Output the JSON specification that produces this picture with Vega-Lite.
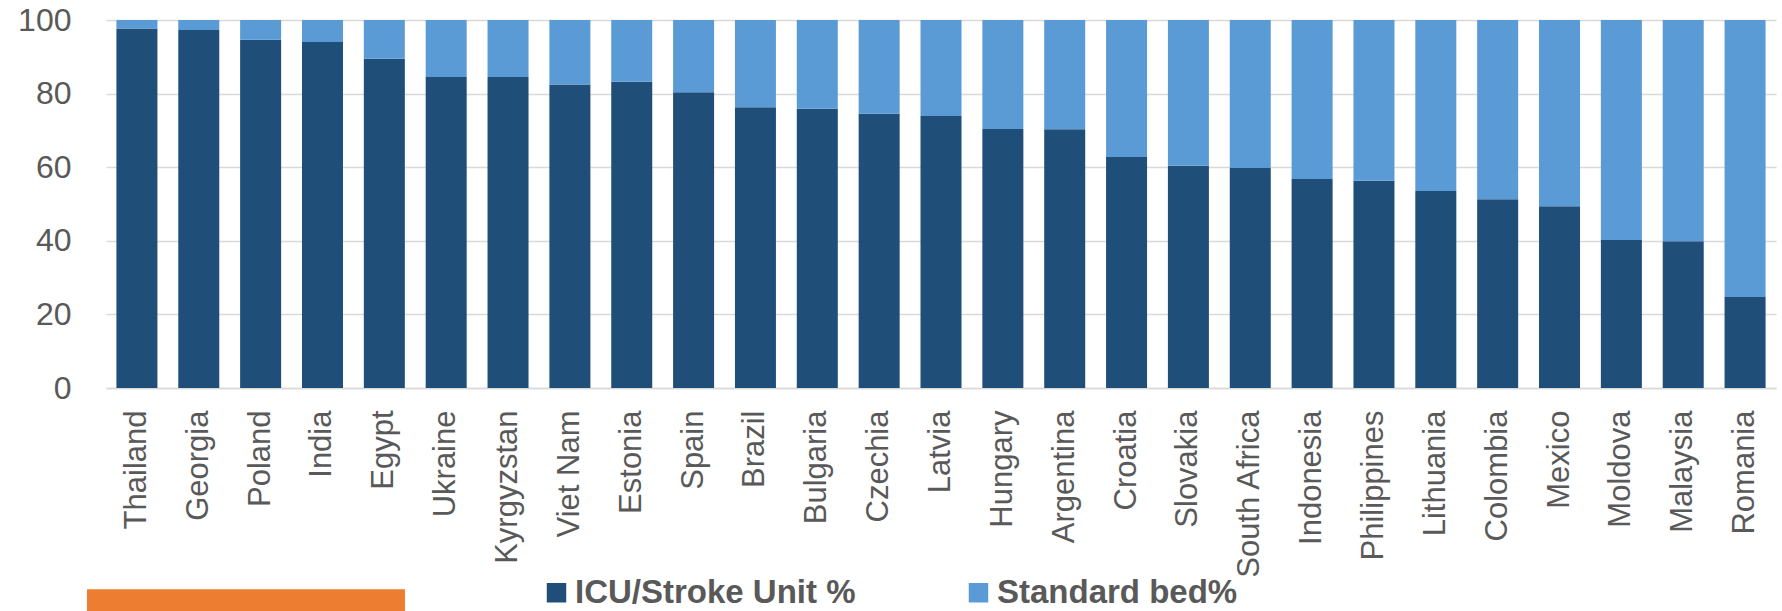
{
  "$schema": "https://vega.github.io/schema/vega-lite/v6.json",
  "width": 1670,
  "height": 368,
  "autosize": {"type": "none"},
  "padding": {"left": 106, "top": 20, "right": 6, "bottom": 223},
  "background": "white",
  "config": {"view": {"stroke": null}, "font": "Liberation Sans"},
  "data": {
    "values": [
      {"country": "Thailand", "type": "ICU/Stroke Unit %", "value": 97.7},
      {"country": "Thailand", "type": "Standard bed%", "value": 2.3},
      {"country": "Georgia", "type": "ICU/Stroke Unit %", "value": 97.3},
      {"country": "Georgia", "type": "Standard bed%", "value": 2.7},
      {"country": "Poland", "type": "ICU/Stroke Unit %", "value": 94.6},
      {"country": "Poland", "type": "Standard bed%", "value": 5.4},
      {"country": "India", "type": "ICU/Stroke Unit %", "value": 94.0},
      {"country": "India", "type": "Standard bed%", "value": 6.0},
      {"country": "Egypt", "type": "ICU/Stroke Unit %", "value": 89.5},
      {"country": "Egypt", "type": "Standard bed%", "value": 10.5},
      {"country": "Ukraine", "type": "ICU/Stroke Unit %", "value": 84.5},
      {"country": "Ukraine", "type": "Standard bed%", "value": 15.5},
      {"country": "Kyrgyzstan", "type": "ICU/Stroke Unit %", "value": 84.5},
      {"country": "Kyrgyzstan", "type": "Standard bed%", "value": 15.5},
      {"country": "Viet Nam", "type": "ICU/Stroke Unit %", "value": 82.5},
      {"country": "Viet Nam", "type": "Standard bed%", "value": 17.5},
      {"country": "Estonia", "type": "ICU/Stroke Unit %", "value": 83.2},
      {"country": "Estonia", "type": "Standard bed%", "value": 16.8},
      {"country": "Spain", "type": "ICU/Stroke Unit %", "value": 80.4},
      {"country": "Spain", "type": "Standard bed%", "value": 19.6},
      {"country": "Brazil", "type": "ICU/Stroke Unit %", "value": 76.3},
      {"country": "Brazil", "type": "Standard bed%", "value": 23.7},
      {"country": "Bulgaria", "type": "ICU/Stroke Unit %", "value": 75.9},
      {"country": "Bulgaria", "type": "Standard bed%", "value": 24.1},
      {"country": "Czechia", "type": "ICU/Stroke Unit %", "value": 74.5},
      {"country": "Czechia", "type": "Standard bed%", "value": 25.5},
      {"country": "Latvia", "type": "ICU/Stroke Unit %", "value": 73.9},
      {"country": "Latvia", "type": "Standard bed%", "value": 26.1},
      {"country": "Hungary", "type": "ICU/Stroke Unit %", "value": 70.4},
      {"country": "Hungary", "type": "Standard bed%", "value": 29.6},
      {"country": "Argentina", "type": "ICU/Stroke Unit %", "value": 70.3},
      {"country": "Argentina", "type": "Standard bed%", "value": 29.7},
      {"country": "Croatia", "type": "ICU/Stroke Unit %", "value": 62.8},
      {"country": "Croatia", "type": "Standard bed%", "value": 37.2},
      {"country": "Slovakia", "type": "ICU/Stroke Unit %", "value": 60.4},
      {"country": "Slovakia", "type": "Standard bed%", "value": 39.6},
      {"country": "South Africa", "type": "ICU/Stroke Unit %", "value": 59.8},
      {"country": "South Africa", "type": "Standard bed%", "value": 40.2},
      {"country": "Indonesia", "type": "ICU/Stroke Unit %", "value": 56.8},
      {"country": "Indonesia", "type": "Standard bed%", "value": 43.2},
      {"country": "Philippines", "type": "ICU/Stroke Unit %", "value": 56.3},
      {"country": "Philippines", "type": "Standard bed%", "value": 43.7},
      {"country": "Lithuania", "type": "ICU/Stroke Unit %", "value": 53.5},
      {"country": "Lithuania", "type": "Standard bed%", "value": 46.5},
      {"country": "Colombia", "type": "ICU/Stroke Unit %", "value": 51.3},
      {"country": "Colombia", "type": "Standard bed%", "value": 48.7},
      {"country": "Mexico", "type": "ICU/Stroke Unit %", "value": 49.4},
      {"country": "Mexico", "type": "Standard bed%", "value": 50.6},
      {"country": "Moldova", "type": "ICU/Stroke Unit %", "value": 40.2},
      {"country": "Moldova", "type": "Standard bed%", "value": 59.8},
      {"country": "Malaysia", "type": "ICU/Stroke Unit %", "value": 39.9},
      {"country": "Malaysia", "type": "Standard bed%", "value": 60.1},
      {"country": "Romania", "type": "ICU/Stroke Unit %", "value": 24.7},
      {"country": "Romania", "type": "Standard bed%", "value": 75.3}
    ]
  },
  "layer": [
    {
      "mark": {"type": "bar"},
      "encoding": {
        "x": {
          "field": "country",
          "type": "nominal",
          "sort": null,
          "scale": {"paddingInner": 0.337, "paddingOuter": 0.1685},
          "axis": {
            "title": null,
            "labelAngle": -90,
            "labelFontSize": 31,
            "labelFont": "Liberation Sans",
            "labelColor": "#595959",
            "labelPadding": 22,
            "ticks": false,
            "tickSize": 0,
            "domainColor": "#D9D9D9",
            "domainWidth": 1.3,
            "labelLimit": 0
          }
        },
        "y": {
          "field": "value",
          "type": "quantitative",
          "stack": "zero",
          "scale": {"domain": [0, 100], "nice": false},
          "axis": {
            "title": null,
            "values": [0, 20, 40, 60, 80, 100],
            "labelFontSize": 32,
            "labelFont": "Liberation Sans",
            "labelColor": "#595959",
            "labelPadding": 35,
            "ticks": false,
            "tickSize": 0,
            "domain": false,
            "gridColor": "#D9D9D9",
            "gridWidth": 1.3
          }
        },
        "order": {"field": "type", "sort": "ascending"},
        "color": {
          "field": "type",
          "type": "nominal",
          "scale": {
            "domain": ["ICU/Stroke Unit %", "Standard bed%"],
            "range": ["#1F4E79", "#5B9BD5"]
          },
          "legend": {
            "title": null,
            "orient": "none",
            "legendX": 434,
            "legendY": 556,
            "direction": "horizontal",
            "symbolType": "square",
            "symbolSize": 380,
            "symbolStrokeWidth": 0,
            "labelFontSize": 33,
            "labelFontWeight": "bold",
            "labelFont": "Liberation Sans",
            "labelColor": "#595959",
            "labelOffset": 2,
            "columnPadding": 106,
            "padding": 0,
            "labelLimit": 0
          }
        }
      }
    },
    {
      "data": {"values": [{}]},
      "mark": {"type": "rect", "color": "#ED7D31", "clip": false},
      "encoding": {
        "x": {"datum": -0.307, "type": "quantitative", "scale": {"domain": [0, 27], "nice": false, "zero": false}, "axis": null},
        "x2": {"datum": 4.834},
        "y": {"datum": -54.7, "type": "quantitative"},
        "y2": {"datum": -75}
      }
    }
  ],
  "resolve": {"scale": {"x": "independent"}}
}
